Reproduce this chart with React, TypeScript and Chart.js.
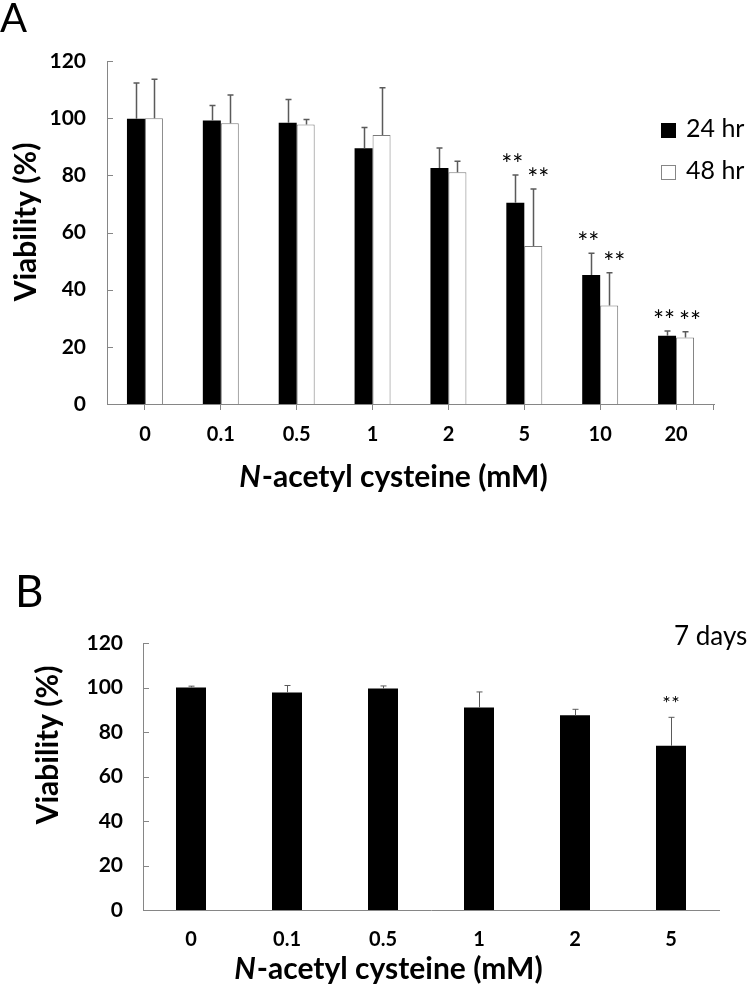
import React, { useEffect, useRef } from 'react';
import { Chart, registerables } from 'chart.js';

Chart.register(...registerables);

// ---------- Data: panel A ----------
const categoriesA = ['0', '0.1', '0.5', '1', '2', '5', '10', '20'];
const viability24 = [99.8, 99.2, 98.4, 89.5, 82.6, 70.4, 45.1, 23.9];
const error24 = [12.5, 5.2, 8.1, 7.2, 7.0, 9.7, 7.6, 1.6];
const signif24 = [false, false, false, false, false, true, true, true];
const viability48 = [100.0, 98.2, 97.8, 94.1, 81.1, 55.3, 34.5, 23.3];
const error48 = [13.6, 9.9, 1.7, 16.5, 3.8, 19.9, 11.4, 2.0];
const signif48 = [false, false, false, false, false, true, true, true];
const seriesLabels = ['24 hr', '48 hr'];

// ---------- Data: panel B ----------
const categoriesB = ['0', '0.1', '0.5', '1', '2', '5'];
const viability7d = [100.0, 97.8, 99.5, 91.0, 87.5, 73.8];
const error7d = [0.6, 3.1, 1.2, 7.0, 2.7, 12.8];
const signif7d = [false, false, false, false, false, true];

// ---------- Tick labels ----------
const yTickValues = [0, 20, 40, 60, 80, 100, 120];
const yTitle = 'Viability (%)';
const xTitleItalic = 'N';
const xTitleRest = '-acetyl cysteine (mM)';

const FONT = 'Lato, "Open Sans", sans-serif';
const AXIS = '#868686';
const ERR = '#5a5a5a';

const errorBarPlugin = {
  id: 'errorBars',
  afterDatasetsDraw(chart: any, _args: any, opts: any) {
    const ctx = chart.ctx;
    const y = chart.scales.y;
    chart.data.datasets.forEach((ds: any, i: number) => {
      const meta = chart.getDatasetMeta(i);
      meta.data.forEach((bar: any, j: number) => {
        const v = ds.data[j] as number;
        const e = ds.errors[j] as number;
        const top = y.getPixelForValue(v + e);
        const bx = Math.round(bar.x) + 0.5;
        ctx.save();
        ctx.strokeStyle = ERR;
        ctx.lineWidth = opts.lineWidth || 1.5;
        ctx.beginPath();
        ctx.moveTo(bx, bar.y);
        ctx.lineTo(bx, top);
        ctx.moveTo(bx - opts.cap, top);
        ctx.lineTo(bx + opts.cap, top);
        ctx.stroke();
        if (ds.signif[j]) {
          ctx.fillStyle = '#000';
          ctx.font = opts.starFont;
          ctx.textAlign = 'center';
          ctx.textBaseline = 'alphabetic';
          const cx = bar.x + (opts.starShift ? opts.starShift[i] : 0);
          const base = top - opts.starGap;
          ctx.fillText('*', cx - opts.starSep, base);
          ctx.fillText('*', cx + opts.starSep, base);
        }
        ctx.restore();
      });
    });
  },
};

function yInnerTicks(chart: any, len: number) {
  const ctx = chart.ctx;
  const y = chart.scales.y;
  const left = chart.chartArea.left;
  ctx.save();
  ctx.strokeStyle = AXIS;
  ctx.lineWidth = 1;
  y.ticks.forEach((t: any) => {
    const py = Math.round(y.getPixelForValue(t.value)) + 0.5;
    ctx.beginPath();
    ctx.moveTo(left, py);
    ctx.lineTo(left + len, py);
    ctx.stroke();
  });
  ctx.restore();
}

function drawYTitle(ctx: any, cx: number, cy: number, size: number) {
  ctx.save();
  ctx.translate(cx, cy);
  ctx.rotate(-Math.PI / 2);
  ctx.font = `bold ${size}px ${FONT}`;
  ctx.fillStyle = '#000';
  ctx.textAlign = 'center';
  ctx.textBaseline = 'alphabetic';
  ctx.fillText(yTitle, 0, 0);
  ctx.restore();
}

function drawXTitle(ctx: any, cx: number, baseline: number, size: number) {
  ctx.save();
  ctx.fillStyle = '#000';
  ctx.textBaseline = 'alphabetic';
  ctx.textAlign = 'left';
  const fi = `italic bold ${size}px ${FONT}`;
  const fb = `bold ${size}px ${FONT}`;
  ctx.font = fi;
  const w1 = ctx.measureText(xTitleItalic).width;
  ctx.font = fb;
  const w2 = ctx.measureText(xTitleRest).width;
  const x0 = cx - (w1 + w2) / 2;
  ctx.font = fi;
  ctx.fillText(xTitleItalic, x0, baseline);
  ctx.font = fb;
  ctx.fillText(xTitleRest, x0 + w1 + 1, baseline);
  ctx.restore();
}

const decorA = {
  id: 'decorA',
  afterDraw(chart: any) {
    const ctx = chart.ctx;
    const { right, bottom } = chart.chartArea;
    yInnerTicks(chart, 6);
    ctx.save();
    ctx.strokeStyle = AXIS;
    ctx.beginPath();
    ctx.moveTo(Math.round(right) - 0.5, bottom);
    ctx.lineTo(Math.round(right) - 0.5, bottom + 6);
    ctx.stroke();
    ctx.restore();
    ctx.save();
    ctx.fillStyle = '#000';
    ctx.font = `40px ${FONT}`;
    ctx.textBaseline = 'alphabetic';
    ctx.fillText('A', 0, 32);
    ctx.restore();
    drawYTitle(ctx, 36, 222, 30);
    drawXTitle(ctx, 393, 487, 30);
    chart.data.datasets.forEach((ds: any, i: number) => {
      const top = 123 + i * 42;
      ctx.save();
      ctx.fillStyle = ds.backgroundColor;
      ctx.fillRect(661, top, 15, 15);
      ctx.strokeStyle = i === 0 ? '#000' : AXIS;
      ctx.lineWidth = 1;
      ctx.strokeRect(661.5, top + 0.5, 14, 14);
      ctx.fillStyle = '#000';
      ctx.font = `25px ${FONT}`;
      ctx.textBaseline = 'alphabetic';
      ctx.fillText(ds.label, 686, top + 14);
      ctx.restore();
    });
  },
};

const decorB = {
  id: 'decorB',
  afterDraw(chart: any) {
    const ctx = chart.ctx;
    yInnerTicks(chart, 6);
    ctx.save();
    ctx.fillStyle = '#000';
    ctx.font = `44px ${FONT}`;
    ctx.textBaseline = 'alphabetic';
    ctx.fillText('B', 15, 62);
    ctx.font = `26px ${FONT}`;
    ctx.fillText('7 days', 674, 100);
    ctx.restore();
    drawYTitle(ctx, 58, 200, 30);
    drawXTitle(ctx, 388, 434, 30);
  },
};

function yScale(width: number, pad: number) {
  return {
    min: 0,
    max: 120,
    afterBuildTicks: (s: any) => {
      s.ticks = yTickValues.map((v) => ({ value: v }));
    },
    afterFit: (s: any) => {
      s.width = width;
    },
    grid: { display: false, drawTicks: false },
    border: { display: true, color: AXIS, width: 1 },
    ticks: {
      padding: pad,
      color: '#000',
      font: { family: FONT, size: 21, weight: 'bold' as const },
    },
  };
}

export default function App() {
  const refA = useRef<HTMLCanvasElement>(null);
  const refB = useRef<HTMLCanvasElement>(null);

  useEffect(() => {
    const chartA = new Chart(refA.current as HTMLCanvasElement, {
      type: 'bar',
      data: {
        labels: categoriesA,
        datasets: [
          {
            label: seriesLabels[0],
            data: viability24,
            errors: error24,
            signif: signif24,
            backgroundColor: '#000000',
            borderWidth: 0,
            categoryPercentage: 0.474,
            barPercentage: 1,
          } as any,
          {
            label: seriesLabels[1],
            data: viability48,
            errors: error48,
            signif: signif48,
            backgroundColor: '#ffffff',
            borderColor: '#7a7a7a',
            borderWidth: 1,
            categoryPercentage: 0.474,
            barPercentage: 1,
          } as any,
        ],
      },
      options: {
        animation: false,
        responsive: false,
        maintainAspectRatio: false,
        layout: { padding: { top: 61, right: 36, left: 0, bottom: 0 } },
        plugins: {
          legend: { display: false },
          tooltip: { enabled: false },
          errorBars: {
            cap: 3,
            starFont: `26px ${FONT}`,
            starGap: 1,
            starSep: 5.5,
            starShift: [-3, 5],
          },
        } as any,
        scales: {
          x: {
            afterFit: (s: any) => {
              s.height = 136;
            },
            grid: {
              display: true,
              drawOnChartArea: false,
              drawTicks: true,
              tickLength: 6,
              offset: false,
              color: AXIS,
            },
            border: { display: true, color: AXIS, width: 1 },
            ticks: {
              padding: 13,
              color: '#000',
              font: { family: FONT, size: 20, weight: 'bold' },
            },
          },
          y: yScale(107, 21) as any,
        },
      },
      plugins: [errorBarPlugin, decorA],
    });

    const chartB = new Chart(refB.current as HTMLCanvasElement, {
      type: 'bar',
      data: {
        labels: categoriesB,
        datasets: [
          {
            label: '7 days',
            data: viability7d,
            errors: error7d,
            signif: signif7d,
            backgroundColor: '#000000',
            borderWidth: 0,
            categoryPercentage: 0.3125,
            barPercentage: 1,
          } as any,
        ],
      },
      options: {
        animation: false,
        responsive: false,
        maintainAspectRatio: false,
        layout: { padding: { top: 98, right: 31, left: 0, bottom: 0 } },
        plugins: {
          legend: { display: false },
          tooltip: { enabled: false },
          errorBars: {
            cap: 3,
            starFont: `20px ${FONT}`,
            starGap: 7,
            starSep: 4.5,
            lineWidth: 1,
          },
        } as any,
        scales: {
          x: {
            afterFit: (s: any) => {
              s.height = 87;
            },
            grid: { display: false, drawTicks: false },
            border: { display: true, color: AXIS, width: 1 },
            ticks: {
              padding: 18,
              color: '#000',
              font: { family: FONT, size: 20, weight: 'bold' },
            },
          },
          y: yScale(143, 20) as any,
        },
      },
      plugins: [errorBarPlugin, decorB],
    });

    return () => {
      chartA.destroy();
      chartB.destroy();
    };
  }, []);

  return (
    <div
      style={{
        position: 'absolute',
        left: 0,
        top: 0,
        width: 750,
        height: 997,
        background: '#fff',
        overflow: 'hidden',
      }}
    >
      <canvas
        ref={refA}
        width={750}
        height={540}
        style={{ position: 'absolute', left: 0, top: 0, width: 750, height: 540, display: 'block' }}
      />
      <canvas
        ref={refB}
        width={750}
        height={452}
        style={{ position: 'absolute', left: 0, top: 545, width: 750, height: 452, display: 'block' }}
      />
    </div>
  );
}
